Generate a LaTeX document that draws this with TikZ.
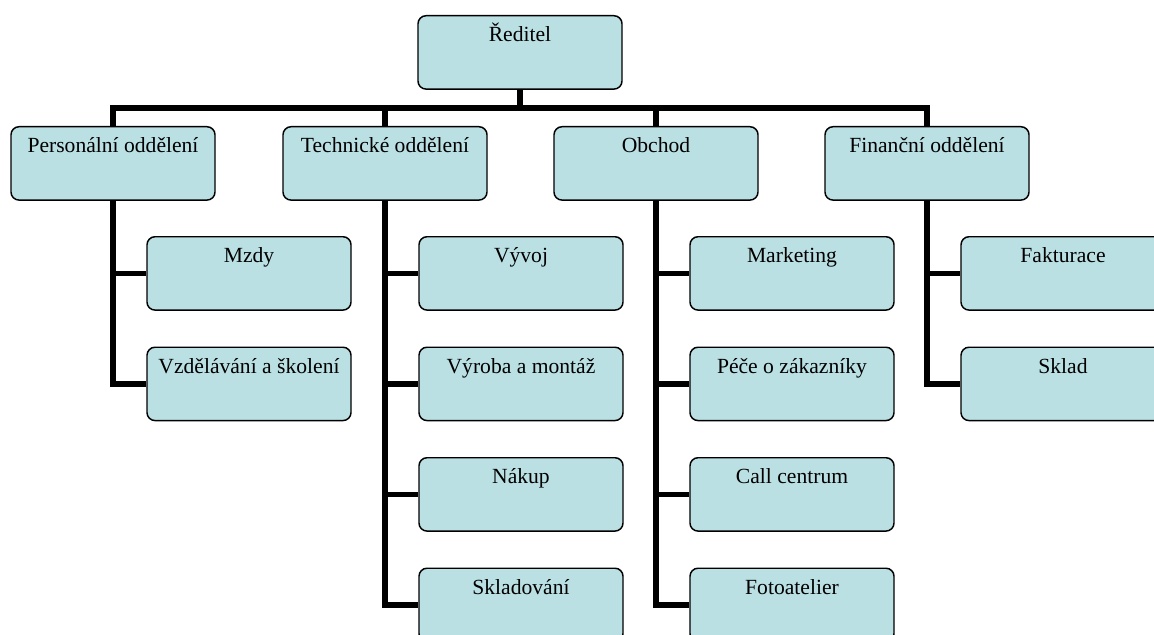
\documentclass[tikz,border=0pt]{standalone}
\usepackage{fontspec}
\setmainfont{Liberation Serif}
\definecolor{boxfill}{RGB}{186,224,227}
\begin{document}
\begin{tikzpicture}[x=0.75pt,y=-0.75pt,
  unit/.style={draw=black, line width=1.1pt, fill=boxfill, rounded corners=6pt,
    minimum width=153pt, inner xsep=0pt, inner ysep=0pt,
    text height=19.5pt, text depth=35.5pt, font=\fontsize{16.2}{19}\selectfont},
  link/.style={line width=3.9pt, line cap=butt, line join=miter}]
\useasboundingbox (0,0) rectangle (1154,635);
\clip (0,0) rectangle (1154,635);

% director
\node[unit, anchor=north] (dir) at (520,15) {Ředitel};

% departments
\node[unit, anchor=north] (pers) at (113,126) {Personální oddělení};
\node[unit, anchor=north] (tech) at (385,126) {Technické oddělení};
\node[unit, anchor=north] (obch) at (656,126) {Obchod};
\node[unit, anchor=north] (fin)  at (927,126) {Finanční oddělení};

% sections of the personnel department
\node[unit, anchor=north] (mzdy) at (249,236) {Mzdy};
\node[unit, anchor=north] (vzd)  at (249,346.5) {Vzdělávání a školení};

% sections of the technical department
\node[unit, anchor=north] (vyv)  at (521,236) {Vývoj};
\node[unit, anchor=north] (vyr)  at (521,346.5) {Výroba a montáž};
\node[unit, anchor=north] (nak)  at (521,457) {Nákup};
\node[unit, anchor=north] (skl)  at (521,567.5) {Skladování};

% sections of sales
\node[unit, anchor=north] (mkt)  at (792,236) {Marketing};
\node[unit, anchor=north] (pece) at (792,346.5) {Péče o zákazníky};
\node[unit, anchor=north] (call) at (792,457) {Call centrum};
\node[unit, anchor=north] (foto) at (792,567.5) {Fotoatelier};

% sections of finance
\node[unit, anchor=north] (fakt) at (1063,236) {Fakturace};
\node[unit, anchor=north] (sklad) at (1063,346.5) {Sklad};

% top-level bus
\coordinate (bus) at (520,108);
\draw[link] (pers.north) -- (pers.north |- bus) -- (fin.north |- bus) -- (fin.north);
\draw[link] (dir.south) -- (bus);
\foreach \d in {tech,obch}
  \draw[link] (\d.north) -- (\d.north |- bus);

% department spines and branches
\draw[link] (pers.south) -- (pers.south |- vzd.west) -- (vzd.west);
\draw[link] (pers.south |- mzdy.west) -- (mzdy.west);

\draw[link] (tech.south) -- (tech.south |- skl.west) -- (skl.west);
\foreach \s in {vyv,vyr,nak}
  \draw[link] (tech.south |- \s.west) -- (\s.west);

\draw[link] (obch.south) -- (obch.south |- foto.west) -- (foto.west);
\foreach \s in {mkt,pece,call}
  \draw[link] (obch.south |- \s.west) -- (\s.west);

\draw[link] (fin.south) -- (fin.south |- sklad.west) -- (sklad.west);
\draw[link] (fin.south |- fakt.west) -- (fakt.west);
\end{tikzpicture}
\end{document}
